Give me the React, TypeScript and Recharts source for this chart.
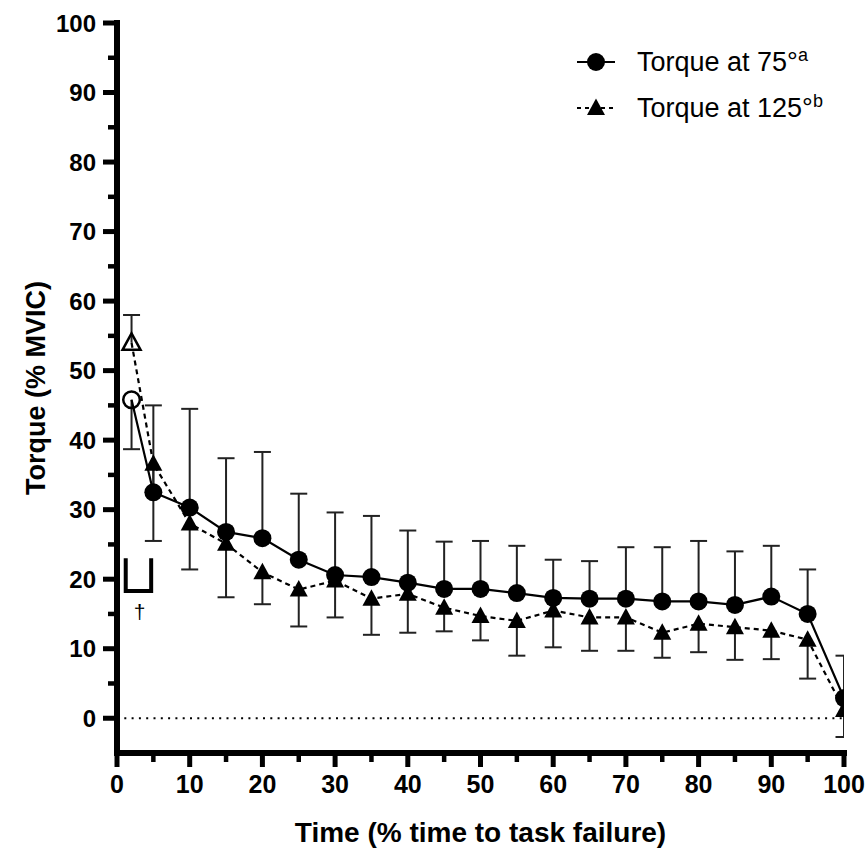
import React from 'react';
import { ComposedChart, Line, XAxis, YAxis, ReferenceLine, Legend } from 'recharts';

const FONT = '"Liberation Sans", Arial, Helvetica, sans-serif';

// ---------- data ----------
const times = [2, 5, 10, 15, 20, 25, 30, 35, 40, 45, 50, 55, 60, 65, 70, 75, 80, 85, 90, 95, 100];
const torque75 = [45.8, 32.5, 30.3, 26.8, 25.9, 22.8, 20.6, 20.3, 19.5, 18.6, 18.6, 18.0, 17.3, 17.2, 17.2, 16.8, 16.8, 16.3, 17.5, 15.0, 2.9];
const sd75 = [7.1, 12.5, 14.2, 10.6, 12.4, 9.5, 9.0, 8.8, 7.5, 6.8, 6.9, 6.8, 5.5, 5.4, 7.4, 7.8, 8.7, 7.7, 7.3, 6.4, 6.1];
const torque125 = [54.0, 36.6, 28.0, 25.1, 21.0, 18.5, 19.8, 17.2, 17.9, 15.9, 14.7, 14.0, 15.5, 14.5, 14.5, 12.3, 13.6, 13.1, 12.6, 11.3, 1.2];
const sd125 = [4.0, 11.1, 6.6, 7.7, 4.6, 5.3, 5.3, 5.2, 5.6, 3.4, 3.5, 5.0, 5.3, 4.8, 4.8, 3.6, 4.1, 4.7, 4.1, 5.6, 3.9];
// pre-task (open symbol) time points
const openTimes = [2];
// error bar direction: 75° drawn upward, 125° drawn downward (reversed at the open point)
const dir75 = times.map((t) => (openTimes.includes(t) ? -1 : 1));
const dir125 = times.map((t) => (openTimes.includes(t) ? 1 : -1));

const xDomain = [0, 100];
const yDomain = [-5, 100];
const xTicks = [0, 5, 10, 15, 20, 25, 30, 35, 40, 45, 50, 55, 60, 65, 70, 75, 80, 85, 90, 95, 100];
const yTicks = [0, 5, 10, 15, 20, 25, 30, 35, 40, 45, 50, 55, 60, 65, 70, 75, 80, 85, 90, 95, 100];

// significance bracket and dagger
const bracketT = [1.2, 1.2, 4.7, 4.7];
const bracketV = [23, 18.3, 18.3, 23];
const daggerT = [3.1];
const daggerV = [15.4];
const daggerText = '†';

const legendLabels = ['Torque at 75°', 'Torque at 125°'];
const legendSups = ['a', 'b'];
const xTitle = 'Time (% time to task failure)';
const yTitle = 'Torque (% MVIC)';

// ---------- style constants ----------
const TICK_SIZE = 14;
const Y_TICK_MARGIN = 7;
const X_TICK_MARGIN = 8;
const MAJOR_LEN = 14;
const MINOR_LEN = 9;
const CAP_HALF = 8.5;
const AXIS_W = 6;

const YTick = (props: any) => {
  const { x, y, payload } = props;
  const v = payload.value;
  const major = v % 10 === 0;
  const axisX = x + Y_TICK_MARGIN + TICK_SIZE;
  return (
    <g>
      <line
        x1={axisX - (major ? MAJOR_LEN : MINOR_LEN)}
        x2={axisX}
        y1={y}
        y2={y}
        stroke="#000"
        strokeWidth={major ? 5 : 4.5}
      />
      {major && (
        <text x={x} y={y} dy="0.36em" textAnchor="end" fontFamily={FONT} fontWeight="bold" fontSize={24} fill="#000">
          {v}
        </text>
      )}
    </g>
  );
};

const XTick = (props: any) => {
  const { x, y, payload } = props;
  const v = payload.value;
  const major = v % 10 === 0;
  const axisY = y - X_TICK_MARGIN - TICK_SIZE;
  return (
    <g>
      <line
        x1={x}
        x2={x}
        y1={axisY}
        y2={axisY + (major ? MAJOR_LEN : MINOR_LEN)}
        stroke="#000"
        strokeWidth={major ? 5 : 4.5}
      />
      {major && (
        <text x={x} y={y} dy="0.71em" textAnchor="middle" fontFamily={FONT} fontWeight="bold" fontSize={25} fill="#000">
          {v}
        </text>
      )}
    </g>
  );
};

const CircleDot = (p: any) => {
  const { cx, cy, payload } = p;
  if (cx == null || cy == null) return <g />;
  if (payload.open) return <circle cx={cx} cy={cy} r={8.3} fill="none" stroke="#000" strokeWidth={2.5} />;
  return <circle cx={cx} cy={cy} r={9} fill="#000" />;
};

const triPoints = (cx: number, cy: number) => `${cx},${cy - 9.5} ${cx - 9},${cy + 7} ${cx + 9},${cy + 7}`;

const TriangleDot = (p: any) => {
  const { cx, cy, payload } = p;
  if (cx == null || cy == null) return <g />;
  if (payload.open)
    return <polygon points={triPoints(cx, cy)} fill="none" stroke="#000" strokeWidth={2.5} strokeLinejoin="miter" />;
  return <polygon points={triPoints(cx, cy)} fill="#000" />;
};

const CapDot = (p: any) => {
  const { cx, cy, payload } = p;
  if (cx == null || cy == null || !payload || !payload.cap) return <g />;
  return <line x1={cx - CAP_HALF} x2={cx + CAP_HALF} y1={cy} y2={cy} stroke="#222" strokeWidth={2} />;
};

const DaggerDot = (p: any) => {
  const { cx, cy } = p;
  if (cx == null || cy == null) return <g />;
  return (
    <text x={cx} y={cy} dy="0.35em" textAnchor="middle" fontFamily={FONT} fontSize={21} fill="#000">
      {daggerText}
    </text>
  );
};

const LegendContent = () => (
  <div style={{ fontFamily: FONT, fontSize: 27, color: '#000', lineHeight: 1 }}>
    {legendLabels.map((label, i) => (
      <div key={label} style={{ display: 'flex', alignItems: 'center', height: 46 }}>
        <svg width={40} height={24} style={{ display: 'block' }}>
          <line
            x1={1}
            x2={39}
            y1={12}
            y2={12}
            stroke="#000"
            strokeWidth={2}
            strokeDasharray={i === 1 ? '4 4' : undefined}
          />
          {i === 0 ? <circle cx={20} cy={12} r={9} fill="#000" /> : <polygon points={triPoints(20, 12)} fill="#000" />}
        </svg>
        <span style={{ marginLeft: 21, whiteSpace: 'nowrap' }}>
          {label}
          <span style={{ fontSize: 18, position: 'relative', top: -10 }}>{legendSups[i]}</span>
        </span>
      </div>
    ))}
  </div>
);

export default function App() {
  const d75 = times.map((t, i) => ({ t, v: torque75[i], open: openTimes.includes(t) }));
  const d125 = times.map((t, i) => ({ t, v: torque125[i], open: openTimes.includes(t) }));
  const whisk = (means: number[], sds: number[], dirs: number[]) =>
    times.flatMap((t, i) => [
      { t, w: means[i], cap: false },
      { t, w: means[i] + dirs[i] * sds[i], cap: true },
      { t, w: null, cap: false },
    ]);
  const w75 = whisk(torque75, sd75, dir75);
  const w125 = whisk(torque125, sd125, dir125);
  const bracket = bracketT.map((t, i) => ({ t, b: bracketV[i] }));
  const dagger = daggerT.map((t, i) => ({ t, g: daggerV[i] }));

  return (
    <div style={{ position: 'fixed', left: 0, top: 0, background: '#fff' }}>
      <ComposedChart width={866} height={848} margin={{ top: 23, right: 22, bottom: 0, left: 0 }}>
        <XAxis
          type="number"
          dataKey="t"
          domain={xDomain}
          ticks={xTicks}
          interval={0}
          height={95}
          allowDataOverflow
          tickLine={false}
          tickSize={TICK_SIZE}
          tickMargin={X_TICK_MARGIN}
          tick={(p: any) => <XTick {...p} />}
          axisLine={false}
          label={{
            value: xTitle,
            position: 'insideBottom',
            offset: 6,
            fontFamily: FONT,
            fontWeight: 'bold',
            fontSize: 28,
            fill: '#000',
          }}
        />
        <YAxis
          type="number"
          domain={yDomain}
          ticks={yTicks}
          interval={0}
          width={117}
          allowDataOverflow
          tickLine={false}
          tickSize={TICK_SIZE}
          tickMargin={Y_TICK_MARGIN}
          tick={(p: any) => <YTick {...p} />}
          axisLine={false}
          label={{
            value: yTitle,
            angle: -90,
            position: 'insideLeft',
            offset: 35,
            fontFamily: FONT,
            fontWeight: 'bold',
            fontSize: 27,
            fill: '#000',
            style: { textAnchor: 'middle' },
          }}
        />
        <ReferenceLine y={0} stroke="#000" strokeWidth={2} strokeDasharray="2 5.3" />
        <ReferenceLine x={xDomain[0]} stroke="#000" strokeWidth={AXIS_W} strokeLinecap="square" />
        <ReferenceLine y={yDomain[0]} stroke="#000" strokeWidth={AXIS_W} strokeLinecap="square" />
        <Line
          data={w75}
          dataKey="w"
          type="linear"
          stroke="#222"
          strokeWidth={2}
          dot={(p: any) => <CapDot {...p} />}
          activeDot={false}
          connectNulls={false}
          isAnimationActive={false}
          legendType="none"
        />
        <Line
          data={w125}
          dataKey="w"
          type="linear"
          stroke="#222"
          strokeWidth={2}
          dot={(p: any) => <CapDot {...p} />}
          activeDot={false}
          connectNulls={false}
          isAnimationActive={false}
          legendType="none"
        />
        <Line
          data={d75}
          dataKey="v"
          name={legendLabels[0]}
          type="linear"
          stroke="#000"
          strokeWidth={2.2}
          dot={(p: any) => <CircleDot {...p} />}
          activeDot={false}
          isAnimationActive={false}
        />
        <Line
          data={d125}
          dataKey="v"
          name={legendLabels[1]}
          type="linear"
          stroke="#000"
          strokeWidth={2.2}
          strokeDasharray="5 4"
          dot={(p: any) => <TriangleDot {...p} />}
          activeDot={false}
          isAnimationActive={false}
        />
        <Line
          data={bracket}
          dataKey="b"
          type="linear"
          stroke="#000"
          strokeWidth={4}
          strokeLinejoin="miter"
          dot={false}
          activeDot={false}
          isAnimationActive={false}
          legendType="none"
        />
        <Line
          data={dagger}
          dataKey="g"
          type="linear"
          stroke="none"
          dot={(p: any) => <DaggerDot {...p} />}
          activeDot={false}
          isAnimationActive={false}
          legendType="none"
        />
        <Legend
          layout="horizontal"
          verticalAlign="middle"
          align="center"
          content={() => <LegendContent />}
          wrapperStyle={{ top: 39, left: 576, width: 290 }}
        />
      </ComposedChart>
    </div>
  );
}
